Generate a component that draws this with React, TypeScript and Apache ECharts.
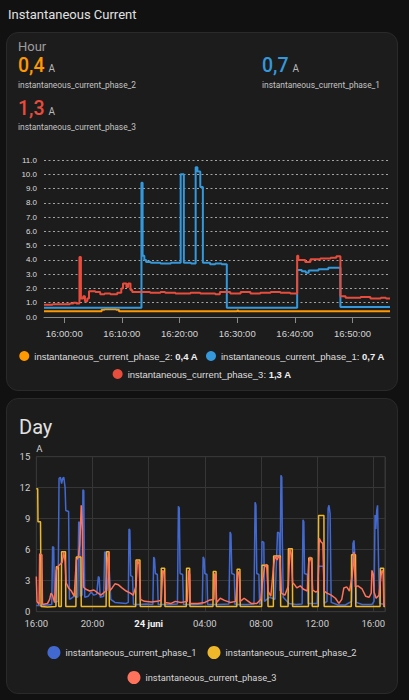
import React, { useEffect, useRef } from "react";
import * as echarts from "echarts";

// ---------- Hour view: minutes relative to 16:00:00, current in A ----------
const HOUR_NAMES = [
  "instantaneous_current_phase_1",
  "instantaneous_current_phase_2",
  "instantaneous_current_phase_3",
];
const HOUR_MIN = -3.5;
const HOUR_MAX = 56.5;
const HOUR_TICKS = [0, 10, 20, 30, 40, 50];

const HOUR_PHASE_1: [number, number][] = [
  [-3.5, 0.65], [13.4, 9.4], [13.6, 4.3], [13.9, 4.0], [14.2, 3.85], [15.0, 3.8],
  [16.7, 3.75], [18.5, 3.8], [20.2, 10.0], [20.75, 3.8], [22.0, 3.75], [22.8, 10.5],
  [23.1, 10.2], [23.6, 9.1], [24.05, 3.8], [25.3, 3.7], [26.2, 3.75], [27.3, 3.7],
  [28.2, 0.65], [40.4, 3.3], [41.2, 3.2], [41.9, 3.1], [42.4, 3.25], [44.1, 3.35],
  [45.8, 3.45], [47.9, 0.7], [56.5, 0.7],
];
const HOUR_PHASE_2: [number, number][] = [
  [-3.5, 0.4], [6.5, 0.5], [7.0, 0.55], [9.0, 0.5], [9.5, 0.4], [30.0, 0.45],
  [30.2, 0.4], [56.5, 0.4],
];
const HOUR_PHASE_3: [number, number][] = [
  [-3.5, 0.85], [-2.0, 0.9], [-0.7, 0.9], [1.0, 0.95], [1.6, 1.0], [2.1, 0.95],
  [2.65, 4.2], [2.9, 1.3], [3.3, 1.45], [3.6, 1.1], [4.0, 1.3], [4.3, 1.8],
  [5.4, 1.75], [6.25, 1.6], [7.0, 1.65], [8.0, 1.6], [9.2, 1.7], [9.9, 2.0],
  [10.2, 2.35], [10.8, 2.1], [11.1, 2.35], [11.5, 1.9], [11.8, 1.75], [13.2, 1.75],
  [14.9, 1.7], [16.7, 1.75], [17.5, 1.7], [19.3, 1.65], [21.9, 1.7], [23.6, 1.65],
  [26.2, 1.6], [27.0, 1.75], [28.8, 1.65], [30.6, 1.75], [32.3, 1.65], [34.0, 1.7],
  [35.8, 1.75], [37.5, 1.7], [39.2, 1.65], [40.4, 4.3], [40.6, 4.0], [41.8, 3.85],
  [42.7, 4.05], [44.4, 4.1], [46.2, 4.15], [47.2, 4.25], [47.9, 1.45], [48.8, 1.35],
  [51.4, 1.4], [53.1, 1.3], [54.9, 1.35], [55.8, 1.3], [56.5, 1.3],
];
const HOUR_COLORS = ["#3498db", "#ff9800", "#e74c3c"];

// ---------- Day view: hours relative to 23 juni 16:00, current in A ----------
const DAY_MAX = 24.83;
const DAY_PHASE_1: [number, number][] = [
  [0, 0.6], [0.3, 0.6], [0.8, 0.65], [1.1, 0.7], [1.16, 6.3], [1.24, 6.2], [1.3, 0.9],
  [1.55, 1.0], [1.62, 12.9], [1.72, 13.0], [1.8, 12.4], [1.88, 12.9], [1.96, 13.0],
  [2.05, 12.0], [2.1, 9.8], [2.3, 9.7], [2.36, 1.2], [2.5, 1.3], [2.7, 1.5], [2.95, 1.4],
  [3.02, 8.7], [3.08, 8.6], [3.14, 1.5], [3.26, 1.6], [3.32, 11.8], [3.38, 11.7],
  [3.45, 1.4], [3.7, 1.5], [3.9, 1.9], [4.1, 1.6], [4.3, 1.7], [4.42, 3.4], [4.48, 3.3],
  [4.55, 1.4], [4.8, 1.5], [4.87, 5.8], [4.97, 5.7], [5.03, 2.0], [5.2, 3.9], [5.3, 1.2],
  [5.6, 0.9], [6.0, 0.85], [6.4, 0.8], [6.55, 0.9], [6.6, 8.0], [6.66, 7.9], [6.72, 3.5],
  [6.85, 3.4], [6.92, 0.7], [7.4, 0.7], [7.8, 0.75], [8.3, 0.7], [8.36, 5.3], [8.42, 5.1],
  [8.48, 3.7], [8.62, 3.6], [8.68, 0.7], [9.5, 0.7], [10.05, 0.75], [10.12, 10.2],
  [10.18, 10.0], [10.24, 3.7], [10.42, 3.6], [10.48, 0.7], [11.2, 0.7], [11.82, 0.75],
  [11.88, 5.3], [11.95, 5.1], [12.0, 3.7], [12.15, 3.6], [12.2, 0.7], [13.0, 0.7],
  [13.72, 0.75], [13.8, 7.7], [13.86, 7.5], [13.92, 3.7], [14.1, 3.6], [14.15, 0.7],
  [15.0, 0.7], [15.5, 0.75], [15.58, 10.6], [15.64, 10.3], [15.7, 3.7], [15.85, 3.6],
  [15.9, 0.7], [16.0, 0.9], [16.07, 6.8], [16.2, 6.7], [16.25, 1.0], [16.6, 1.4],
  [17.0, 1.2], [17.18, 7.7], [17.3, 7.6], [17.35, 2.0], [17.42, 13.2], [17.48, 13.0],
  [17.52, 6.9], [17.58, 1.4], [18.0, 0.8], [18.5, 0.7], [18.93, 0.75], [18.99, 8.9],
  [19.05, 8.7], [19.1, 3.7], [19.3, 3.6], [19.35, 0.8], [20.0, 0.8], [20.1, 4.4],
  [20.45, 4.4], [20.5, 0.8], [20.7, 1.0], [20.78, 10.0], [20.84, 10.3], [20.92, 9.5],
  [21.0, 0.9], [21.5, 0.65], [22.0, 0.65], [22.45, 1.0], [22.55, 6.6], [22.62, 6.9],
  [22.7, 5.0], [22.78, 0.9], [23.2, 0.7], [23.9, 0.7], [24.05, 1.0], [24.12, 9.35],
  [24.18, 8.0], [24.24, 9.8], [24.3, 10.3], [24.38, 4.0], [24.45, 0.8], [24.83, 0.7],
];
const DAY_PHASE_2: [number, number][] = [
  [0, 11.9], [0.1, 11.9], [0.12, 8.7], [0.3, 8.7], [0.34, 0.5], [0.8, 0.45], [1.4, 0.5],
  [1.43, 4.35], [1.58, 4.35], [1.6, 0.5], [1.78, 0.5], [1.8, 5.8], [2.08, 5.8], [2.1, 0.5],
  [2.82, 0.5], [2.85, 5.3], [3.18, 5.3], [3.2, 0.5], [4.97, 0.5], [5.0, 5.8], [5.18, 5.8],
  [5.2, 0.5], [7.08, 0.5], [7.1, 5.0], [7.38, 5.0], [7.4, 0.5], [8.88, 0.5], [8.9, 4.2],
  [9.14, 4.2], [9.16, 0.5], [10.68, 0.5], [10.7, 4.2], [10.92, 4.2], [10.94, 0.5],
  [12.58, 0.5], [12.6, 3.9], [12.8, 3.9], [12.82, 0.5], [14.28, 0.5], [14.3, 4.1],
  [14.5, 4.1], [14.52, 0.5], [16.05, 0.5], [16.07, 4.5], [16.48, 4.5], [16.5, 0.5],
  [16.88, 0.5], [16.9, 5.4], [17.38, 5.4], [17.4, 0.5], [17.93, 0.5], [17.95, 6.1],
  [18.23, 6.1], [18.25, 0.5], [19.38, 0.5], [19.4, 5.2], [19.63, 5.2], [19.65, 0.5],
  [20.08, 0.5], [20.1, 9.3], [20.48, 9.3], [20.5, 0.5], [22.43, 0.5], [22.45, 5.5],
  [22.73, 5.5], [22.75, 0.5], [24.48, 0.5], [24.5, 4.2], [24.73, 4.2], [24.75, 0.5],
  [24.83, 0.5],
];
const DAY_PHASE_3: [number, number][] = [
  [0, 3.4], [0.05, 1.0], [0.2, 0.7], [0.24, 5.6], [0.4, 5.5], [0.44, 0.7], [0.8, 0.8],
  [0.95, 1.2], [1.05, 1.8], [1.15, 1.6], [1.3, 0.9], [1.42, 4.0], [1.55, 4.4], [1.7, 4.6],
  [1.85, 4.8], [1.95, 5.8], [2.05, 4.9], [2.12, 2.8], [2.3, 2.3], [2.5, 2.0], [2.7, 1.5],
  [2.85, 5.0], [3.0, 5.3], [3.1, 6.5], [3.2, 10.3], [3.28, 8.0], [3.36, 2.4], [3.5, 2.2],
  [3.8, 2.0], [4.1, 2.1], [4.4, 1.8], [4.6, 1.6], [4.95, 2.0], [5.05, 4.8], [5.15, 5.8],
  [5.22, 2.0], [5.4, 2.3], [5.6, 2.7], [5.85, 2.6], [6.1, 2.3], [6.4, 2.0], [6.7, 1.8],
  [6.9, 1.6], [7.1, 2.5], [7.2, 5.0], [7.32, 4.6], [7.42, 1.2], [7.7, 1.0], [8.2, 0.95],
  [8.6, 1.0], [8.9, 1.1], [9.0, 4.0], [9.1, 3.8], [9.18, 0.9], [9.6, 0.8], [9.9, 1.0],
  [10.3, 0.9], [10.75, 1.0], [10.85, 4.0], [10.92, 3.6], [10.96, 0.8], [11.5, 0.8],
  [12.0, 0.9], [12.3, 1.1], [12.65, 1.2], [12.7, 3.7], [12.78, 3.5], [12.84, 0.9],
  [13.1, 1.3], [13.4, 1.1], [13.8, 0.9], [14.2, 1.0], [14.35, 3.9], [14.45, 3.6],
  [14.52, 1.0], [14.8, 1.3], [15.0, 1.1], [15.3, 0.8], [15.7, 0.8], [16.0, 1.2],
  [16.1, 2.8], [16.25, 4.3], [16.4, 4.6], [16.5, 2.0], [16.7, 1.5], [16.9, 4.5],
  [17.0, 5.4], [17.15, 5.0], [17.25, 5.4], [17.35, 5.2], [17.45, 1.8], [17.7, 1.6],
  [17.95, 2.5], [18.05, 6.1], [18.15, 5.6], [18.25, 2.8], [18.4, 2.6], [18.55, 2.3],
  [18.8, 2.5], [19.0, 2.2], [19.3, 2.0], [19.4, 4.8], [19.5, 5.3], [19.6, 4.8],
  [19.68, 2.1], [19.9, 1.9], [20.05, 2.0], [20.15, 7.1], [20.25, 6.8], [20.4, 6.6],
  [20.5, 2.0], [20.7, 1.8], [21.0, 1.6], [21.3, 1.3], [21.55, 0.8], [21.75, 1.2],
  [21.9, 2.3], [22.1, 2.4], [22.3, 2.0], [22.5, 3.5], [22.62, 5.8], [22.72, 2.4],
  [22.9, 2.5], [23.2, 2.2], [23.45, 1.5], [23.7, 1.4], [23.85, 1.8], [23.9, 4.0],
  [24.0, 3.6], [24.05, 1.9], [24.2, 1.3], [24.4, 1.6], [24.55, 3.5], [24.62, 4.0],
  [24.7, 3.8], [24.75, 0.6], [24.83, 0.6],
];
const DAY_COLORS = ["#4269d0", "#efb82a", "#ff725c"];

const fmtA = (v: number) => v.toFixed(1).replace(".", ",");
const last = (s: [number, number][]) => s[s.length - 1][1];
const pad = (n: number) => String(n).padStart(2, "0");

const HOUR_SERIES = [HOUR_PHASE_1, HOUR_PHASE_2, HOUR_PHASE_3];

function HourChart() {
  const ref = useRef<HTMLDivElement>(null);
  useEffect(() => {
    const chart = echarts.init(ref.current!, null, { renderer: "svg" });
    const font = "Liberation Sans, Arial, sans-serif";
    const legendText = {
      color: "#dedede",
      fontSize: 9.5,
      fontFamily: font,
      rich: {
        n: { color: "#dedede", fontSize: 9.5, fontFamily: font },
        v: { color: "#f0f0f0", fontSize: 9.5, fontFamily: font, fontWeight: "bold" },
      },
    };
    const legendFmt = (name: string) => {
      const i = HOUR_NAMES.indexOf(name);
      return `{n|${name}: }{v|${fmtA(last(HOUR_SERIES[i]))} A}`;
    };
    const legendBase = {
      left: "center",
      icon: "circle",
      itemWidth: 10,
      itemHeight: 10,
      itemGap: 8,
      formatter: legendFmt,
      textStyle: legendText,
    };
    chart.setOption({
      animation: false,
      grid: { left: 38, right: 8, top: 20, bottom: 73 },
      legend: [
        { ...legendBase, top: 206, data: [HOUR_NAMES[1], HOUR_NAMES[0]] },
        { ...legendBase, top: 224, data: [HOUR_NAMES[2]] },
      ],
      xAxis: {
        type: "value",
        min: HOUR_MIN,
        max: HOUR_MAX,
        axisLine: { lineStyle: { color: "#8a8a8a", width: 1 } },
        axisTick: { show: true, length: 6, customValues: HOUR_TICKS, lineStyle: { color: "#8a8a8a" } },
        axisLabel: {
          customValues: HOUR_TICKS,
          margin: 11,
          color: "#d4d4d4",
          fontSize: 9.5,
          fontFamily: font,
          formatter: (m: number) => {
            const t = 16 * 60 + m;
            return `${pad(Math.floor(t / 60))}:${pad(t % 60)}:00`;
          },
        },
        splitLine: { show: false },
      },
      yAxis: {
        type: "value",
        min: 0,
        max: 11,
        interval: 1,
        axisLine: { show: false },
        axisTick: { show: false },
        axisLabel: {
          margin: 7,
          color: "#dcdcdc",
          fontSize: 8,
          fontFamily: font,
          formatter: (v: number) => v.toFixed(1),
        },
        splitLine: { lineStyle: { color: "rgba(255,255,255,0.6)", type: [2, 2.5], width: 1 } },
      },
      series: [1, 0, 2].map((i) => ({
        name: HOUR_NAMES[i],
        type: "line",
        step: "end",
        symbol: "none",
        data: HOUR_SERIES[i],
        lineStyle: { color: HOUR_COLORS[i], width: 2 },
        itemStyle: { color: HOUR_COLORS[i] },
      })),
    });
    return () => chart.dispose();
  }, []);
  return (
    <div
      ref={ref}
      style={{ position: "absolute", left: 6, top: 140, width: 392, height: 250 }}
    />
  );
}

function DayChart() {
  const ref = useRef<HTMLDivElement>(null);
  useEffect(() => {
    const chart = echarts.init(ref.current!, null, { renderer: "svg" });
    const font = "Roboto, sans-serif";
    const legendBase = {
      left: "center",
      icon: "circle",
      itemWidth: 13,
      itemHeight: 13,
      itemGap: 11,
      textStyle: { color: "#d6d6d6", fontSize: 9.3, fontFamily: font },
    };
    const series = [DAY_PHASE_1, DAY_PHASE_2, DAY_PHASE_3];
    chart.setOption({
      animation: false,
      grid: {
        left: 30.3,
        right: 13,
        top: 16.7,
        bottom: 78.3,
        show: true,
        borderColor: "#363636",
        borderWidth: 1,
        backgroundColor: "transparent",
      },
      legend: [
        { ...legendBase, top: 201, data: [HOUR_NAMES[0], HOUR_NAMES[1]] },
        { ...legendBase, top: 226, data: [HOUR_NAMES[2]] },
      ],
      xAxis: {
        type: "value",
        min: 0,
        max: DAY_MAX,
        interval: 4,
        axisLine: { show: false },
        axisTick: { show: false },
        axisLabel: {
          margin: 7,
          color: "#cfcfcf",
          fontSize: 9.5,
          fontFamily: font,
          formatter: (h: number) =>
            h === 8 ? "{b|24 juni}" : `${pad((16 + h) % 24)}:00`,
          rich: {
            b: { color: "#f2f2f2", fontSize: 9.5, fontFamily: font, fontWeight: "bold" },
          },
        },
        splitLine: { show: true, lineStyle: { color: "#363636", width: 1 } },
      },
      yAxis: {
        type: "value",
        min: 0,
        max: 15,
        interval: 3,
        name: "A",
        nameLocation: "end",
        nameGap: 3,
        nameTextStyle: { color: "#d0d0d0", fontSize: 9.5, fontFamily: font, align: "left" },
        axisLine: { show: false },
        axisTick: { show: false },
        axisLabel: { margin: 6, color: "#cfcfcf", fontSize: 9.5, fontFamily: font },
        splitLine: { lineStyle: { color: "#363636", width: 1 } },
      },
      series: series.map((d, i) => ({
        name: HOUR_NAMES[i],
        type: "line",
        symbol: "none",
        data: d,
        lineStyle: { color: DAY_COLORS[i], width: 1.5 },
        itemStyle: { color: DAY_COLORS[i] },
      })),
    });
    return () => chart.dispose();
  }, []);
  return (
    <div
      ref={ref}
      style={{ position: "absolute", left: 6, top: 440, width: 392, height: 250 }}
    />
  );
}

const labelStyle: React.CSSProperties = {
  position: "absolute",
  fontSize: 8.4,
  lineHeight: "9px",
  color: "#c4c4c4",
  whiteSpace: "nowrap",
};

function Reading(props: { left: number; top: number; color: string; value: number; name: string }) {
  return (
    <>
      <div
        style={{
          position: "absolute",
          left: props.left,
          top: props.top,
          whiteSpace: "nowrap",
          display: "flex",
          alignItems: "baseline",
        }}
      >
        <span style={{ fontSize: 19.5, lineHeight: "20px", fontWeight: 500, color: props.color }}>
          {fmtA(props.value)}
        </span>
        <span style={{ fontSize: 10, lineHeight: "10px", color: "#b8b8b8", marginLeft: 4 }}>A</span>
      </div>
      <div style={{ ...labelStyle, left: props.left, top: props.top + 24.5 }}>{props.name}</div>
    </>
  );
}

export default function App() {
  const card: React.CSSProperties = {
    position: "absolute",
    left: 6,
    width: 392,
    background: "#1c1c1c",
    border: "1px solid #2a2a2a",
    borderRadius: 12,
    boxSizing: "border-box",
  };
  return (
    <div
      style={{
        position: "fixed",
        left: 0,
        top: 0,
        width: 409,
        height: 700,
        background: "#111111",
        fontFamily: "Roboto, sans-serif",
        overflow: "hidden",
      }}
    >
      <div style={{ position: "absolute", left: 8, top: 8, fontSize: 13, lineHeight: "13px", color: "#e1e1e1" }}>
        Instantaneous Current
      </div>
      <div style={{ ...card, top: 31.5, height: 359.5 }} />
      <div style={{ ...card, top: 398, height: 296 }} />
      <div style={{ position: "absolute", left: 18, top: 40.3, fontSize: 13, lineHeight: "13px", color: "#9e9e9e" }}>
        Hour
      </div>
      <Reading left={18} top={56} color={HOUR_COLORS[1]} value={last(HOUR_PHASE_2)} name={HOUR_NAMES[1]} />
      <Reading left={262} top={56} color={HOUR_COLORS[0]} value={last(HOUR_PHASE_1)} name={HOUR_NAMES[0]} />
      <Reading left={18} top={98.5} color={HOUR_COLORS[2]} value={last(HOUR_PHASE_3)} name={HOUR_NAMES[2]} />
      <HourChart />
      <div style={{ position: "absolute", left: 19, top: 417, fontSize: 20, lineHeight: "20px", color: "#e1e1e1" }}>
        Day
      </div>
      <DayChart />
    </div>
  );
}
